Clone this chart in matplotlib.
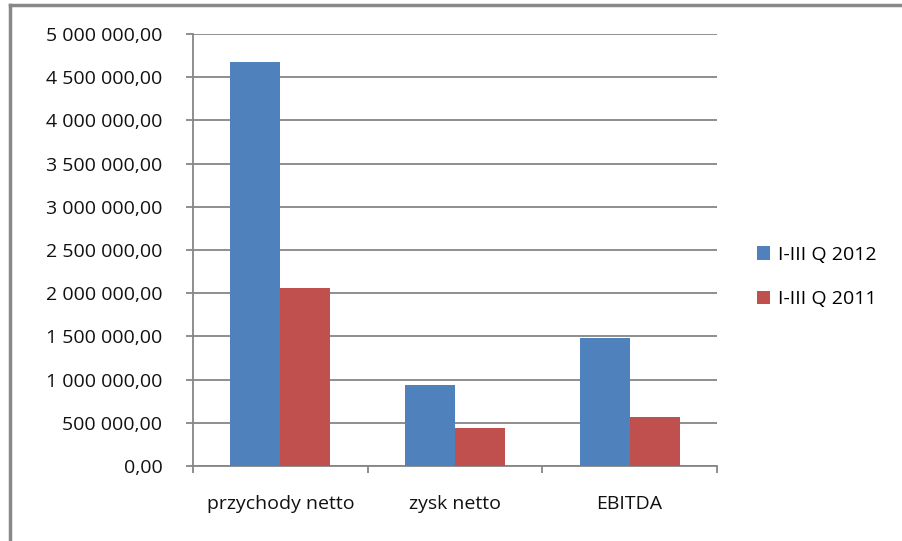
import matplotlib
matplotlib.use("Agg")
import matplotlib.pyplot as plt
import numpy as np
from matplotlib.lines import Line2D
from matplotlib.patches import Patch

# ── Data ──────────────────────────────────────────────────────────────────
categories = ["przychody netto", "zysk netto", "EBITDA"]
series_names = ["I-III Q 2012", "I-III Q 2011"]
q2012 = [4680000, 935000, 1485000]
q2011 = [2060000, 440000, 565000]
yticks = np.arange(0, 5000001, 500000)

BLUE = "#4f81bd"
RED = "#c0504d"
GRID = "#868686"
FS = 14

plt.rcParams["font.family"] = ["Open Sans", "DejaVu Sans"]


def fmt(v):
    s = f"{v:,.2f}"
    return s.replace(",", " ").replace(".", ",")


fig = plt.figure(figsize=(9.02, 5.41), dpi=100)
ax = fig.add_axes([193 / 902, 1 - 466 / 541, (717 - 193) / 902, (466 - 34) / 541])

x = np.arange(len(categories))
w = 0.286
ax.bar(x - w / 2, q2012, width=w, color=BLUE, zorder=3)
ax.bar(x + w / 2, q2011, width=w, color=RED, zorder=3)

ax.set_xlim(-0.5, len(categories) - 0.5)
ax.set_ylim(0, 5000000)
ax.set_yticks(yticks)
ax.set_yticklabels([fmt(v) for v in yticks], fontsize=FS, color="#111111")
ax.yaxis.grid(True, color=GRID, linewidth=1.3, zorder=0)
ax.set_axisbelow(True)

ax.set_xticks(x)
ax.set_xticklabels(categories, fontsize=FS, color="#111111")
ax.set_xticks(np.arange(len(categories) + 1) - 0.5, minor=True)
ax.tick_params(axis="x", which="major", length=0, pad=21)
ax.tick_params(axis="x", which="minor", length=5, color=GRID, width=1.3)
ax.tick_params(axis="y", length=5, color=GRID, width=1.3, pad=17)

for side in ["top", "right"]:
    ax.spines[side].set_visible(False)
for side in ["left", "bottom"]:
    ax.spines[side].set_color(GRID)
    ax.spines[side].set_linewidth(1.3)

handles = [Patch(facecolor=BLUE), Patch(facecolor=RED)]
fig.legend(handles, series_names, loc="center left",
           bbox_to_anchor=(739 / 902, 1 - 277 / 541), frameon=False,
           fontsize=FS, handlelength=0.7, handleheight=0.7,
           handletextpad=0.4, labelspacing=1.35)

# frame edges of the chart area
fig.add_artist(Line2D([10 / 902, 1], [1 - 5 / 541, 1 - 5 / 541],
                      transform=fig.transFigure, color="#888888", linewidth=2.5))
fig.add_artist(Line2D([10 / 902, 10 / 902], [0, 1 - 5 / 541],
                      transform=fig.transFigure, color="#888888", linewidth=2.5))

fig.savefig("out.png", dpi=100, facecolor="white")
